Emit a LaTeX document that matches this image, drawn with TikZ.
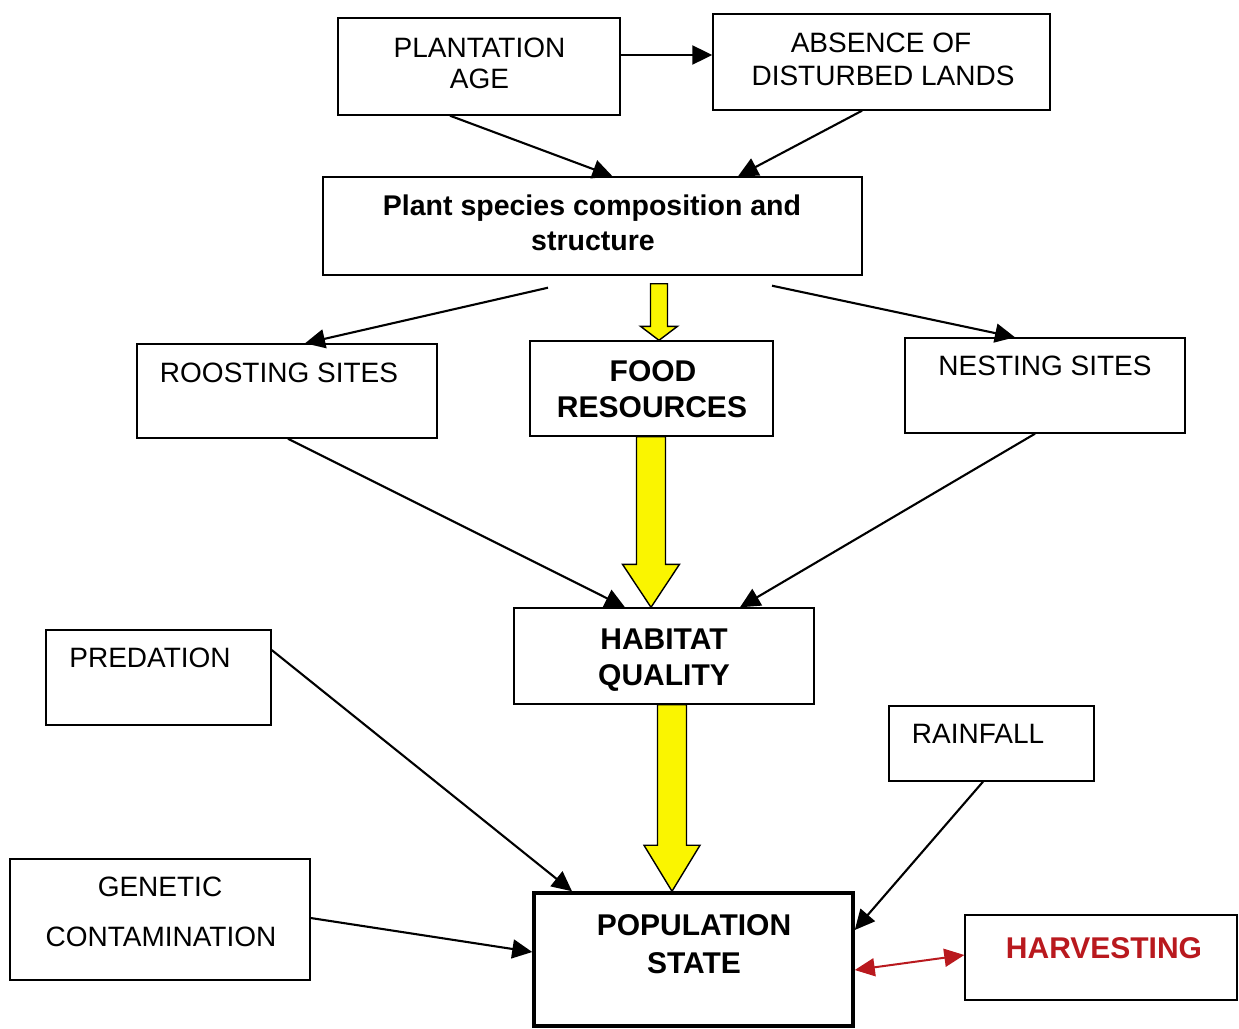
\documentclass[tikz,border=0pt]{standalone}
\usepackage{fontspec}
\setmainfont{Liberation Sans}
\usetikzlibrary{arrows.meta,calc}
\definecolor{yel}{RGB}{250,245,0}
\definecolor{harvred}{RGB}{185,25,30}
\newcommand\yellowarrow[5]{%
  \draw[yarr] let \p1=(#1), \p2=(#2) in
    (\x1-#3pt,\y1) -- (\x1-#3pt,\y2+#5pt) -- (\x1-#4pt,\y2+#5pt) -- (\x1,\y2)
    -- (\x1+#4pt,\y2+#5pt) -- (\x1+#3pt,\y2+#5pt) -- (\x1+#3pt,\y1) -- cycle;}
\begin{document}
\begin{tikzpicture}[x=1pt,y=-1pt,
  box/.style={draw=black,line width=1.4pt,inner sep=0pt},
  txt/.style={anchor=base,inner sep=0pt,font=\fontsize{28}{32}\selectfont},
  btxt/.style={anchor=base,inner sep=0pt,font=\fontsize{30}{34}\selectfont\bfseries},
  ptxt/.style={anchor=base,inner sep=0pt,font=\fontsize{28.5}{32}\selectfont\bfseries},
  arr/.style={line width=2.1pt,-{Triangle[length=20pt,width=19pt]}},
  yarr/.style={draw=black,line width=1.4pt,fill=yel,line join=miter},
  harr/.style={draw=harvred,line width=2pt,{Triangle[length=20pt,width=18pt]}-{Triangle[length=20pt,width=18pt]}}
]
\useasboundingbox (0,0) rectangle (1239,1028);
\fill[white] (0,0) rectangle (1239,1028);

% boxes
\node[box,minimum width=282pt,minimum height=97pt] (age) at (479,66.5) {};
\node[box,minimum width=337pt,minimum height=96pt] (absence) at (881.5,62) {};
\node[box,minimum width=539pt,minimum height=98pt] (plant) at (592.5,226) {};
\node[box,minimum width=300pt,minimum height=94pt] (roost) at (287,391) {};
\node[box,minimum width=243pt,minimum height=95pt] (food) at (651.5,388.5) {};
\node[box,minimum width=280pt,minimum height=95pt] (nest) at (1045,385.5) {};
\node[box,minimum width=300pt,minimum height=96pt] (habitat) at (664,656) {};
\node[box,minimum width=225pt,minimum height=95pt] (pred) at (158.5,677.5) {};
\node[box,minimum width=205pt,minimum height=75pt] (rain) at (991.5,743.5) {};
\node[box,minimum width=300pt,minimum height=121pt] (genetic) at (160,919.5) {};
\node[box,line width=3.5pt,minimum width=319pt,minimum height=133pt] (pop) at (693.5,959.5) {};
\node[box,minimum width=272pt,minimum height=85pt] (harv) at (1101,957.5) {};

% texts
\node[txt] (t1a) at (479.5,57) {PLANTATION};
\node[txt] (t1b) at (479.5,88) {AGE};
\node[txt] (t2a) at (881,52) {ABSENCE OF};
\node[txt] (t2b) at (883,85) {DISTURBED LANDS};
\node[ptxt] (t3a) at (592,215) {Plant species composition and};
\node[ptxt] (t3b) at (593,250) {structure};
\node[txt] (t4) at (279,382) {ROOSTING SITES};
\node[btxt] (t5a) at (653,381) {FOOD};
\node[btxt] (t5b) at (652,417) {RESOURCES};
\node[txt] (t6) at (1045,375) {NESTING SITES};
\node[btxt] (t7a) at (664,649) {HABITAT};
\node[btxt] (t7b) at (664,685) {QUALITY};
\node[txt] (t8) at (150,667) {PREDATION};
\node[txt] (t9) at (978,743) {RAINFALL};
\node[txt] (t10a) at (160,896) {GENETIC};
\node[txt] (t10b) at (161,946) {CONTAMINATION};
\node[btxt] (t11a) at (694,935) {POPULATION};
\node[btxt] (t11b) at (694,973) {STATE};
\node[btxt,text=harvred] (t12) at (1104,958) {HARVESTING};

% black arrows
\draw[arr] ([yshift=11.5pt]age.east) -- ([yshift=7pt]absence.west);
\draw[arr] ([xshift=-29pt]age.south) -- ([xshift=20pt]plant.north);
\draw[arr] ([xshift=-19.5pt]absence.south) -- ([xshift=145.5pt]plant.north);
\draw[arr] ([xshift=-44.5pt,yshift=-12pt]plant.south) -- ([xshift=18pt]roost.north);
\draw[arr] ([xshift=179.5pt,yshift=-10pt]plant.south) -- ([xshift=-30pt]nest.north);
\draw[arr] ([xshift=1pt]roost.south) -- ([xshift=-39pt]habitat.north);
\draw[arr] ([xshift=-10pt]nest.south) -- ([xshift=76pt]habitat.north);
\draw[arr] ([yshift=27.5pt]pred.east) -- ([xshift=-121.5pt]pop.north);
\draw[arr] ([xshift=-8.5pt]rain.south) -- ([yshift=29.5pt]pop.east);
\draw[arr] ([yshift=1.5pt]genetic.east) -- ([yshift=7.5pt]pop.west);
\draw[harr] ([yshift=-10.5pt]pop.east) -- ([yshift=2.5pt]harv.west);

% yellow arrows
\yellowarrow{$(plant.south)+(66.5,8)$}{$(food.north)+(7.5,0)$}{8.5}{18.5}{14}
\yellowarrow{$(food.south)+(-0.5,0)$}{$(habitat.north)+(-13,0)$}{14.5}{28.5}{43}
\yellowarrow{$(habitat.south)+(8,0)$}{$(pop.north)+(-21.5,0)$}{14.5}{28}{46}
\end{tikzpicture}
\end{document}
